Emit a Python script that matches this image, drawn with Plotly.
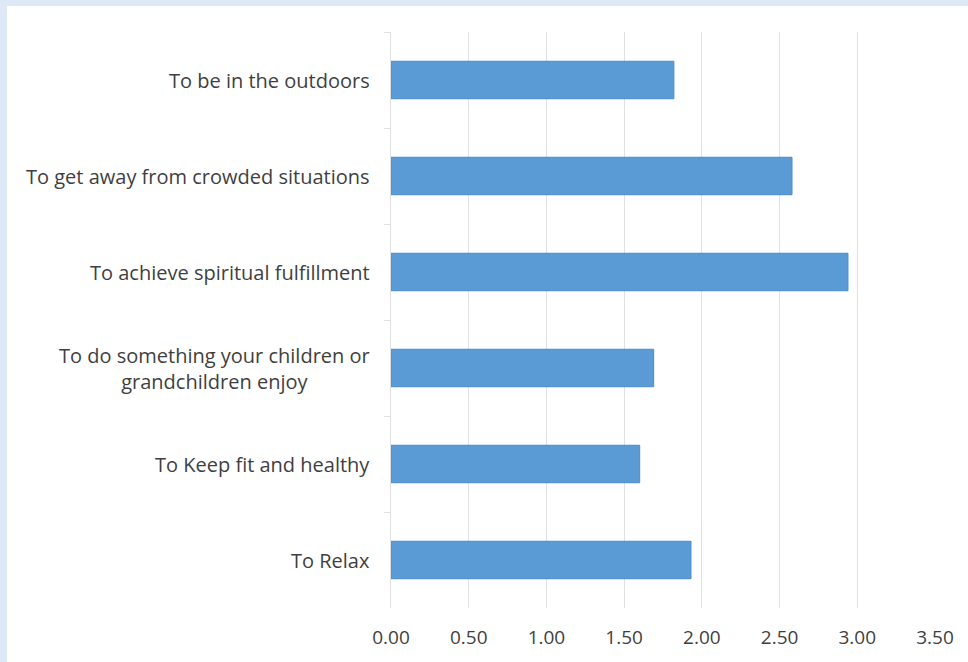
import plotly.graph_objects as go

# Reasons for visiting, top to bottom, with mean scores
reasons = [
    "To be in the outdoors",
    "To get away from crowded situations",
    "To achieve spiritual fulfillment",
    "To do something your children or<br>grandchildren enjoy",
    "To Keep fit and healthy",
    "To Relax",
]
scores = [1.82, 2.58, 2.94, 1.69, 1.60, 1.93]

x_ticks = [0, 0.5, 1.0, 1.5, 2.0, 2.5, 3.0, 3.5]
x_tick_labels = ["0.00", "0.50", "1.00", "1.50", "2.00", "2.50", "3.00", "3.50"]

W, H = 968, 662
FONT = "Open Sans"
TEXT = "#3f3f3f"
GRID = "#e0e0e0"

fig = go.Figure(
    go.Bar(
        x=scores,
        y=reasons,
        orientation="h",
        marker=dict(color="#5b9bd5", line=dict(color="#4a8ad0", width=1)),
        width=0.39,
        hoverinfo="x+y",
    )
)

# Category labels, centred line by line and right-aligned to the axis
for r in reasons:
    fig.add_annotation(
        x=0, xref="paper", y=r, yref="y",
        text=r, showarrow=False,
        xanchor="right", yanchor="middle", align="center",
        xshift=-19,
        font=dict(family=FONT, size=20, color=TEXT),
    )

# White card over a pale blue frame
fig.add_shape(
    type="rect", xref="paper", yref="paper", layer="below",
    x0=(7 - 391) / (935 - 391), x1=(W - 391) / (935 - 391) + 0.01,
    y0=-(H - 608) / (608 - 32) - 0.01, y1=1 + (32 - 6) / (608 - 32),
    fillcolor="white", line=dict(width=0),
)

fig.update_layout(
    width=W, height=H,
    margin=dict(l=391, r=W - 935, t=32, b=H - 608),
    paper_bgcolor="#dde9f6",
    plot_bgcolor="rgba(0,0,0,0)",
    showlegend=False,
    font=dict(family=FONT, size=20, color=TEXT),
    xaxis=dict(
        range=[0, 3.5],
        tickvals=x_ticks, ticktext=x_tick_labels,
        showgrid=True, gridcolor=GRID, gridwidth=1,
        zeroline=False, showline=False,
        ticks="", ticklabelstandoff=16,
        tickfont=dict(family=FONT, size=19, color=TEXT),
        fixedrange=True,
    ),
    yaxis=dict(
        categoryorder="array", categoryarray=reasons,
        autorange="reversed",
        showticklabels=False,
        tickson="boundaries", ticks="outside", ticklen=6, tickcolor=GRID,
        showline=True, linecolor=GRID, linewidth=1,
        showgrid=False, zeroline=False,
        fixedrange=True,
    ),
)

fig.write_html("out.html")
